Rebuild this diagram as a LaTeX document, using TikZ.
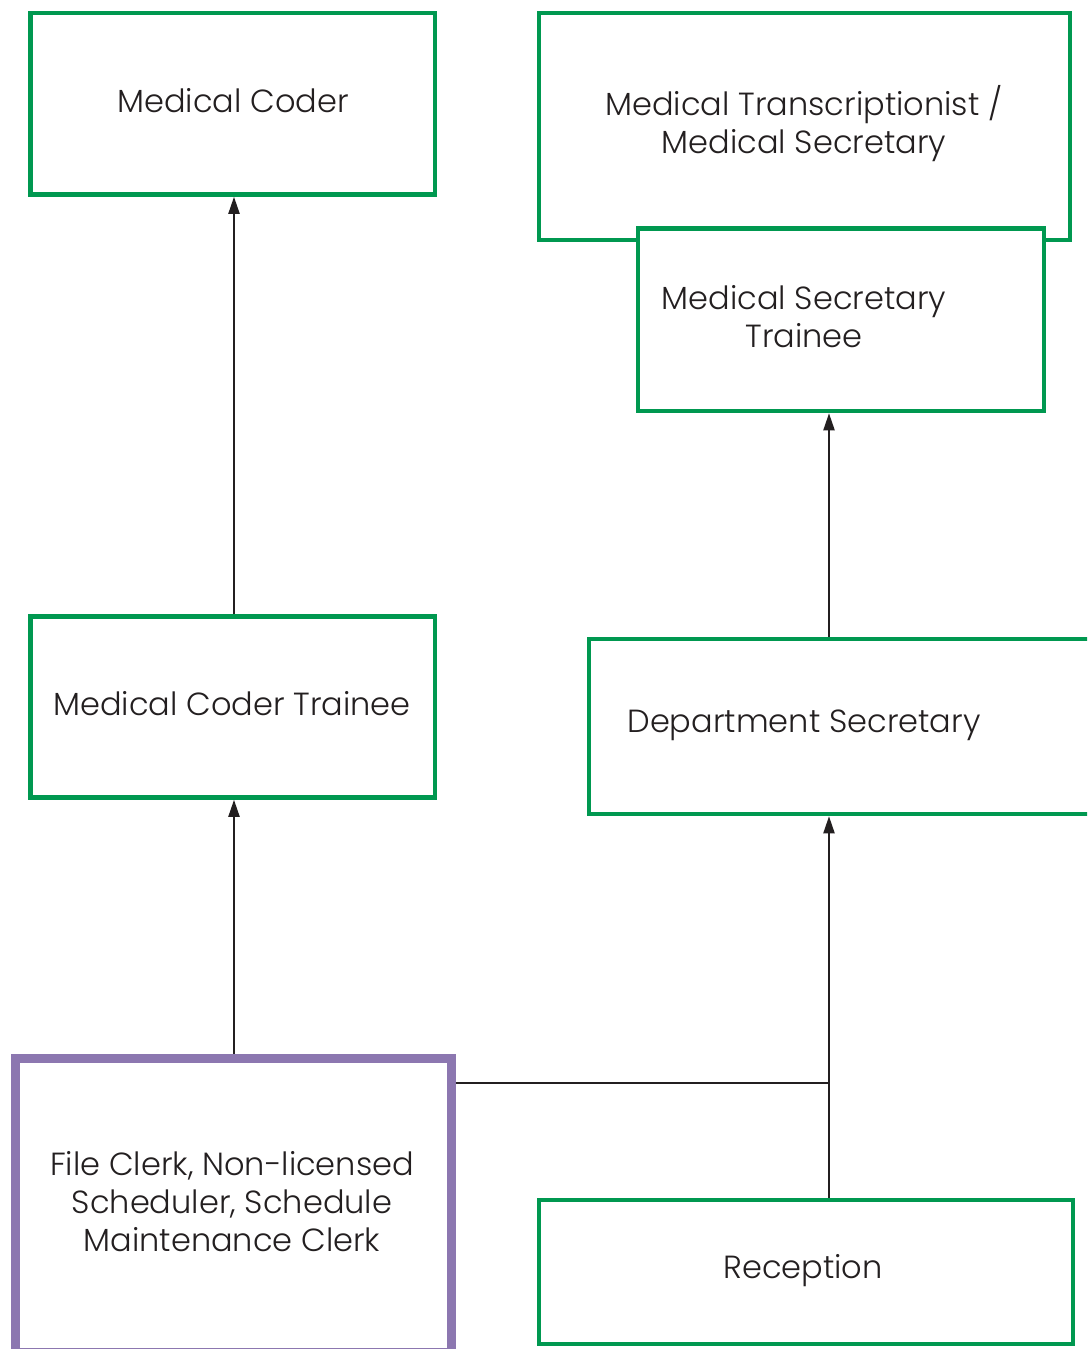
\documentclass[tikz,border=0pt]{standalone}
\usepackage{fontspec}
\IfFontExistsTF{Poppins Light}{\setmainfont{Poppins Light}}{\setmainfont{Poppins}}
\usetikzlibrary{arrows.meta}
\definecolor{boxgreen}{RGB}{0,152,80}
\definecolor{boxpurple}{RGB}{140,119,176}
\definecolor{ink}{RGB}{35,31,32}
\tikzset{
  x=1pt, y=-1pt,
  greenbox/.style={draw=boxgreen, line width=4.5pt, fill=white, rectangle, inner sep=0pt},
  purplebox/.style={draw=boxpurple, line width=9pt, fill=white, rectangle, inner sep=0pt},
  lbl/.style={text=ink, align=center, font=\fontsize{32}{38}\selectfont, inner sep=0pt},
  link/.style={draw=ink, line width=2pt},
  uparrow/.style={link, -{Triangle[length=17pt,width=11pt]}},
}
\newcommand{\boxat}[6]{% style, name, x1, y1, x2, y2
  \node[#1, minimum width={#5-#3}, minimum height={#6-#4}] (#2) at ({(#3+#5)/2},{(#4+#6)/2}) {};}
\begin{document}
\begin{tikzpicture}
\useasboundingbox (0,0) rectangle (1087,1349);
\clip (0,0) rectangle (1087,1349);
\fill[white] (0,0) rectangle (1087,1349);

% boxes (stroke centre lines)
\boxat{greenbox}{mc}{30.5}{13}{435}{194.5}
\boxat{greenbox}{mt}{539}{13}{1070}{240}
\boxat{greenbox}{mst}{638}{228.5}{1044}{411}
\boxat{greenbox}{ct}{30.5}{616.5}{435}{797.5}
\boxat{greenbox}{ds}{589}{639}{1110}{814}
\boxat{purplebox}{fc}{15}{1058}{451}{1352}
\boxat{greenbox}{rc}{539}{1200}{1073}{1344}

% labels
\node[lbl] (mcl) at (233,101) {Medical Coder};
\node[lbl] (mtl) at (804,124) {Medical Transcriptionist /\\Medical Secretary};
\node[lbl] (mstl) at (804,317) {Medical Secretary\\Trainee};
\node[lbl] (ctl) at (232,704) {Medical Coder Trainee};
\node[lbl] (dsl) at (804,725) {Department Secretary};
\node[lbl] (fcl) at (232,1202) {File Clerk, Non-licensed\\Scheduler, Schedule\\Maintenance Clerk};
\node[lbl] (rcl) at (803,1271) {Reception};

% connectors
\coordinate (colL) at (234,0);
\coordinate (colR) at (829,1083);
\draw[uparrow] (ct.north -| colL) -- (mc.south -| colL);
\draw[uparrow] (fc.north -| colL) -- (ct.south -| colL);
\draw[uparrow] (ds.north -| colR) -- (mst.south -| colR);
\draw[uparrow] (rc.north -| colR) -- (ds.south -| colR);
\draw[link] (fc.east |- colR) -- (colR);
\end{tikzpicture}
\end{document}
